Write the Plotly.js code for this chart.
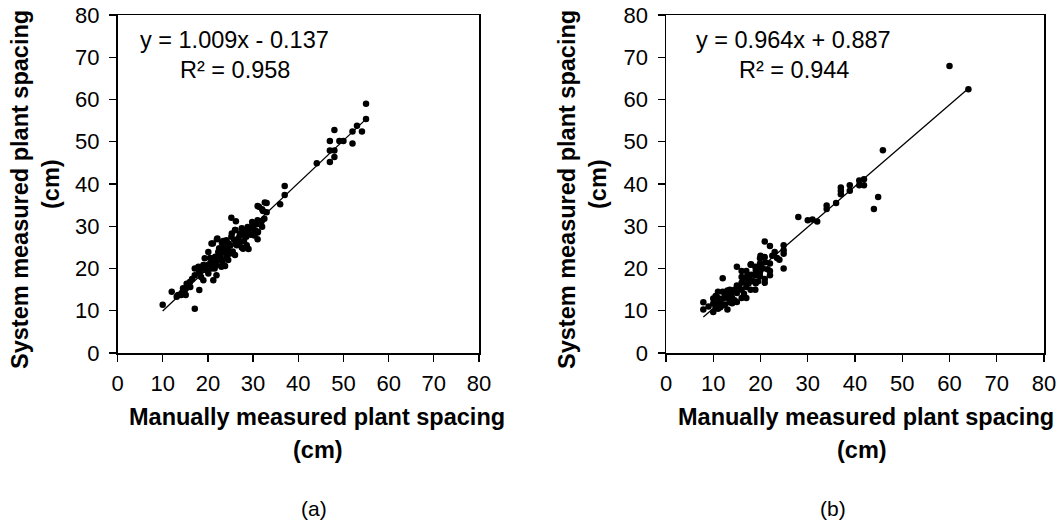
<!DOCTYPE html>
<html>
<head>
<meta charset="utf-8">
<script src="https://cdn.plot.ly/plotly-3.0.1.min.js"></script>
<style>html,body{margin:0;padding:0;background:#fff;}#chart{width:1062px;height:523px;}</style>
</head>
<body>
<div id="chart"></div>
<script>
// Panel (a) data: manually measured (x) vs system measured (y), cm
const xA = [55,55,53,54.1,52,52,50,49.1,48,47,47,48,48,47,44.1,37,37,36,33,32,31,33,32.6,31.3,32.2,25.2,26.2,31.9,30,29.3,32,26,31.1,31,28.2,27.1,25.2,22.1,23.4,20.8,28.6,27.8,26.4,24.5,23.8,22.3,26,20.1,21.6,23,24.5,19.3,20.5,21.9,23.8,19,17.9,17.1,19.7,10,12,17.1,18.1,14.2,13.4,14.5,15.3,16,17.1,18.2,19,19,20.1,21.2,20.8,21.9,21.6,23,22.3,24.1,23.4,29,30,30,29,28,27.1,26.1,24.1,24.1,23.1,22,21.1,15.1,15.1,13.1,14.1,16.1,31,31,25,25.5,26.5,27,28,28.5,29.5,30.5,30.8,29.8,27.5,26.8,24.8,24,22.8,22,21,20.5,23.5,25.8,24.5,22.5,21.5,20,18.5,18,16.5,15.8,14.8,27.5,28.8,30.3,32.5,26.2,23.2,25.3];
const yA = [59,55.4,53.8,52.4,52.4,49.6,50.2,50.2,52.8,50.2,47.9,47.9,46.4,45.2,44.9,39.5,37.4,35.2,35.5,34,34.8,33.3,35.6,34.6,33.6,32,31.2,31.2,30.7,29.5,29.9,29.1,28.7,26.9,28.7,27.9,27.5,27.1,26.5,25.9,25.5,24.7,25.5,24.7,23.9,23.9,23.2,23.9,22.8,22,22,22.4,21.2,20.8,20.6,20.8,20.4,20,19.6,11.4,14.5,10.5,14.9,14.2,13.7,15.3,16.4,16.8,18.4,19.2,17.2,20,18.8,17.2,20,18.4,21.2,20.4,22.7,22.7,23.9,24.6,29.4,30.5,28.5,27.9,28.3,29.1,26.7,25.1,26.1,26.9,25.9,15.2,13.7,13.3,13.7,15.6,31.4,28.5,25.5,24,26.5,26,26.5,27.5,28,29,30.5,31,29.5,27.2,23.5,24.2,23,22,21.5,22.5,25,26.8,26,24.8,20,20.8,18,19,17.5,15.8,14.5,25,29.8,27.8,31.8,25.8,21.5,28.3];
// Panel (b) data
const xB = [60,64,45.9,44.9,44,41.9,41.9,40.9,40.9,38.9,38.9,37,37,37,36,34,34,32,31,30,28,24.9,24.9,24.9,24.9,24,23,22,20.9,20.9,22,22,22,20.9,20.9,19.9,19.9,19.9,19.9,19.9,18.9,18.9,17.9,17.9,17,17,17,17,16,16,16,15,18.9,17.9,17,16,15,15,14,14,14,13,13,12,12,12,12,11,11,11,11,10,10,10,13,7.9,7.9,19,18,16.5,15.5,14.5,13.5,12.5,11.5,10.5,20.5,21,19.5,18.5,16,15,13.5,12.5,17.5,20,23.5,22.5,18,14.5,16.5,13.5,11.5,9,10.5,19,21.5];
const yB = [67.9,62.4,48,36.9,34.1,41.1,39.7,40.8,39.7,39.7,38.4,39.2,38.4,37.6,35.5,34.9,34.1,31.1,31.6,31.4,32.2,25.5,24.3,23.5,20,22.1,23.9,25.3,26.4,22.7,21.2,19.4,18.4,17.5,16.6,22.4,21.2,20.4,19.2,18.2,20.4,18.4,20.9,17.2,19.4,18,16.6,15.6,19.4,18,16.6,20.4,15,15,13,13,14.2,12.1,14.2,13,11.8,14.8,13,17.7,14.5,12.9,11.3,14.5,13,11.7,10.5,12.9,11.7,9.7,10.3,12,10.3,19.5,18.5,17,15.5,15,14,13.5,12.5,13.5,20,21.5,17,17,15,16,15,11.5,16.5,23,22.5,23,21,12.5,14,12,10.8,11,10.8,16.5,19.8];
// Linear fits shown in the chart
const slopes = [1.009, 0.964];
const intercepts = [-0.137, 0.887];
const eqLabels = ["y = 1.009x - 0.137", "y = 0.964x + 0.887"];
const r2Labels = ["R² = 0.958", "R² = 0.944"];
const panelLabels = ["(a)", "(b)"];
const xTitle = ["Manually measured plant spacing", "(cm)"];
const yTitle = ["System measured plant spacing", "(cm)"];
const tickVals = [0,10,20,30,40,50,60,70,80];

const FONT = "Liberation Sans, Arial, sans-serif";
const W = 1062, H = 523;
const px = v => v / W;
const py = v => 1 - v / H;

function fitLine(xs, k) {
  const lo = Math.min(...xs), hi = Math.max(...xs);
  return {x: [lo, hi], y: [slopes[k]*lo + intercepts[k], slopes[k]*hi + intercepts[k]]};
}
const lA = fitLine(xA, 0), lB = fitLine(xB, 1);

const mk = {color: "#000", size: 6.5};
const traces = [
  {x: xA, y: yA, type: "scatter", mode: "markers", marker: mk, xaxis: "x", yaxis: "y"},
  {x: lA.x, y: lA.y, type: "scatter", mode: "lines", line: {color: "#000", width: 1.3}, xaxis: "x", yaxis: "y"},
  {x: xB, y: yB, type: "scatter", mode: "markers", marker: mk, xaxis: "x2", yaxis: "y2"},
  {x: lB.x, y: lB.y, type: "scatter", mode: "lines", line: {color: "#000", width: 1.3}, xaxis: "x2", yaxis: "y2"}
];

const ax = (dom, anchor, isX) => ({
  domain: dom, anchor: anchor, range: [0, 80], tickvals: tickVals, ticktext: tickVals.map(String),
  showgrid: false, zeroline: false, showline: true, mirror: true,
  linecolor: "#000", linewidth: 1.5, ticks: "outside", ticklen: 7, tickwidth: 1.3, tickcolor: "#000",
  ticklabelstandoff: isX ? 3 : 5,
  tickfont: {family: FONT, size: 22, color: "#000"}, fixedrange: true
});

const yDom = [1 - 353/H, 1 - 15/H];
const layout = {
  width: W, height: H, margin: {l: 0, r: 0, t: 0, b: 0},
  paper_bgcolor: "#fff", plot_bgcolor: "#fff", showlegend: false,
  xaxis: ax([117.5/W, 479/W], "y", true),
  yaxis: ax(yDom, "x", false),
  xaxis2: ax([666/W, 1044/W], "y2", true),
  yaxis2: ax(yDom, "x2", false),
  annotations: []
};

const ann = (text, x, y, opts) => Object.assign({
  text: text, x: px(x), y: py(y), xref: "paper", yref: "paper",
  xanchor: "center", yanchor: "middle", showarrow: false,
  font: {family: FONT, size: 23.5, color: "#000"}
}, opts || {});

const bold = {family: FONT, size: 23.5, color: "#000"};
// panel a
layout.annotations.push(ann(eqLabels[0], 234.5, 40));
layout.annotations.push(ann(r2Labels[0], 234.5, 70));
layout.annotations.push(ann("<b>" + xTitle[0] + "</b>", 317, 417, {font: bold}));
layout.annotations.push(ann("<b>" + xTitle[1] + "</b>", 318, 450, {font: bold}));
layout.annotations.push(ann("<b>" + yTitle[0] + "</b>", 20, 190, {font: bold, textangle: -90}));
layout.annotations.push(ann("<b>" + yTitle[1] + "</b>", 51, 184, {font: bold, textangle: -90}));
layout.annotations.push(ann(panelLabels[0], 314, 508, {font: {family: FONT, size: 21, color: "#000"}}));
// panel b
layout.annotations.push(ann(eqLabels[1], 793, 40));
layout.annotations.push(ann(r2Labels[1], 794, 70));
layout.annotations.push(ann("<b>" + xTitle[0] + "</b>", 866, 417, {font: bold}));
layout.annotations.push(ann("<b>" + xTitle[1] + "</b>", 862, 450, {font: bold}));
layout.annotations.push(ann("<b>" + yTitle[0] + "</b>", 567, 190, {font: bold, textangle: -90}));
layout.annotations.push(ann("<b>" + yTitle[1] + "</b>", 598, 184, {font: bold, textangle: -90}));
layout.annotations.push(ann(panelLabels[1], 833, 508, {font: {family: FONT, size: 21, color: "#000"}}));

Plotly.newPlot("chart", traces, layout, {staticPlot: true, displayModeBar: false});
</script>
</body>
</html>
